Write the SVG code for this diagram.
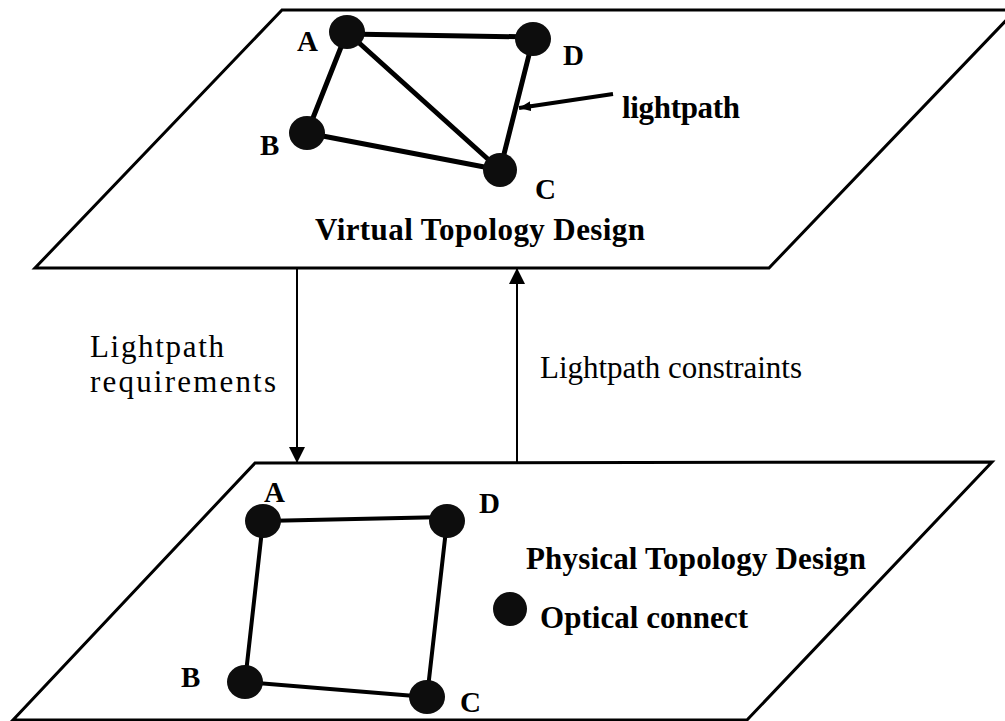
<svg xmlns="http://www.w3.org/2000/svg" width="1005" height="721" viewBox="0 0 1005 721">
<defs>
<style>
.plane{fill:#fff;stroke:#000;stroke-width:3;stroke-linejoin:miter}
.edge{stroke:#000;stroke-width:5;stroke-linecap:round}
.edge2{stroke:#000;stroke-width:4;stroke-linecap:round}
.node{fill:#0d0d0d}
.lbl{font-family:"Liberation Serif",serif;font-weight:bold;font-size:29px;fill:#000}
.big{font-family:"Liberation Serif",serif;font-weight:bold;font-size:31px;fill:#000}
.txt{font-family:"Liberation Serif",serif;font-size:31px;fill:#000}
.conn{stroke:#000;stroke-width:2;fill:none}
</style>
<marker id="ah" markerWidth="16" markerHeight="20" refX="16" refY="8" orient="auto" markerUnits="userSpaceOnUse" viewBox="0 0 16 16">
<path d="M0,0 L16,8 L0,16 Z" fill="#000"/>
</marker>
<marker id="ah2" markerWidth="12" markerHeight="10" refX="12" refY="5" orient="auto" markerUnits="userSpaceOnUse" viewBox="0 0 12 10">
<path d="M0,0 L12,5 L0,10 Z" fill="#000"/>
</marker>
</defs>
<rect width="1005" height="721" fill="#fff"/>

<g id="virtual-plane">
<polygon class="plane" points="282,10 1016,10 769,268 35,268"/>
<text class="big" x="315" y="240" textLength="330">Virtual Topology Design</text>
</g>

<g id="physical-plane">
<polygon class="plane" points="255,463 992,462 747,720 13,720"/>
<text class="big" x="526" y="569" textLength="340">Physical Topology Design</text>
</g>

<g id="virtual-edges">
<line class="edge" x1="347" y1="34" x2="533" y2="37"/>
<line class="edge" x1="347" y1="32" x2="307" y2="133"/>
<line class="edge" x1="347" y1="32" x2="500" y2="170"/>
<line class="edge" x1="307" y1="133" x2="500" y2="170"/>
<line class="edge" x1="533" y1="39" x2="500" y2="170"/>
</g>

<g id="physical-edges">
<line class="edge2" x1="263" y1="521" x2="447" y2="517"/>
<line class="edge2" x1="263" y1="521" x2="245" y2="682"/>
<line class="edge2" x1="447" y1="521" x2="427" y2="697"/>
<line class="edge2" x1="245" y1="682" x2="427" y2="697"/>
</g>

<g id="vA"><ellipse class="node" cx="347" cy="32" rx="18" ry="17"/><text class="lbl" x="297" y="51">A</text></g>
<g id="vB"><ellipse class="node" cx="307" cy="133" rx="18" ry="17"/><text class="lbl" x="260" y="155">B</text></g>
<g id="vC"><ellipse class="node" cx="500" cy="170" rx="17" ry="17"/><text class="lbl" x="535" y="199">C</text></g>
<g id="vD"><ellipse class="node" cx="533" cy="39" rx="18" ry="17"/><text class="lbl" x="563" y="65">D</text></g>

<g id="pA"><ellipse class="node" cx="263" cy="521" rx="18" ry="17"/><text class="lbl" x="264" y="502">A</text></g>
<g id="pB"><ellipse class="node" cx="245" cy="682" rx="18" ry="17"/><text class="lbl" x="181" y="687">B</text></g>
<g id="pC"><ellipse class="node" cx="427" cy="697" rx="18" ry="17"/><text class="lbl" x="460" y="712">C</text></g>
<g id="pD"><ellipse class="node" cx="447" cy="521" rx="18" ry="17"/><text class="lbl" x="479" y="513">D</text></g>

<g id="legend">
<circle class="node" cx="510" cy="609" r="17"/>
<text class="big" x="540" y="628" textLength="208">Optical connect</text>
</g>

<g id="lightpath-label">
<text class="big" x="622" y="118" font-size="30" textLength="118">lightpath</text>
</g>

<g id="connectors">
<line stroke="#000" stroke-width="4" x1="613" y1="94" x2="519" y2="108" marker-end="url(#ah2)"/>
<line class="conn" x1="297" y1="268" x2="297" y2="463" marker-end="url(#ah)"/>
<line class="conn" x1="517" y1="463" x2="517" y2="268" marker-end="url(#ah)"/>
</g>

<g id="arrow-labels">
<text class="txt" x="90" y="357" textLength="134">Lightpath</text>
<text class="txt" x="90" y="392" textLength="186">requirements</text>
<text class="txt" x="540" y="378" textLength="262">Lightpath constraints</text>
</g>
</svg>
